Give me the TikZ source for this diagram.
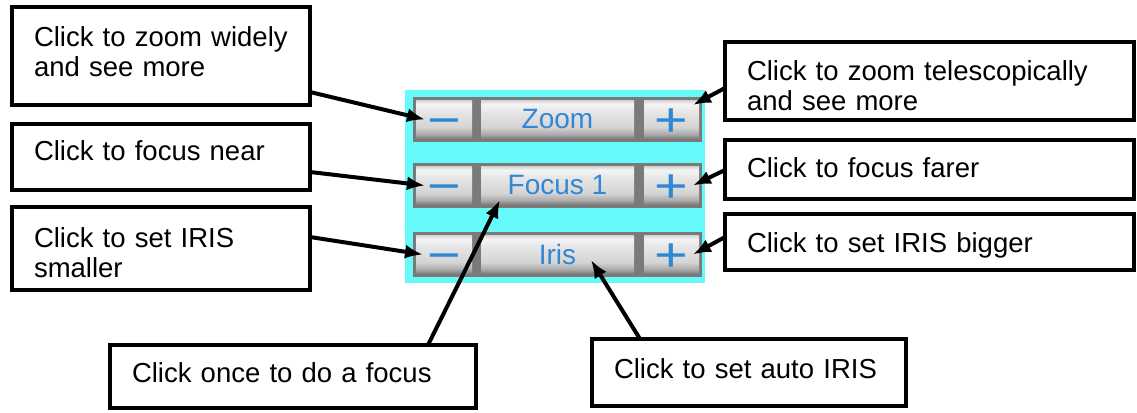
\documentclass[tikz,border=0pt]{standalone}
\usepackage{fontspec}
\setmainfont{Liberation Sans}
\usetikzlibrary{arrows.meta}
\definecolor{panel}{RGB}{102,250,250}
\definecolor{frame}{RGB}{122,122,122}
\definecolor{btntext}{RGB}{48,136,212}
\definecolor{s0}{RGB}{120,120,120}
\definecolor{s1}{RGB}{170,170,170}
\definecolor{s2}{RGB}{212,212,212}
\definecolor{s3}{RGB}{230,230,230}
\definecolor{s4}{RGB}{244,244,244}
\definecolor{s5}{RGB}{210,210,210}
\pgfdeclareverticalshading{btnshade}{100bp}{color(0bp)=(s0); color(25bp)=(s0); color(31bp)=(s1); color(40bp)=(s2); color(60bp)=(s3); color(70bp)=(s4); color(75bp)=(s5); color(100bp)=(s5)}
\tikzset{
  callout/.style={draw, line width=3.5pt, fill=white, anchor=north west, align=left,
    inner xsep=22pt, inner ysep=0pt, outer sep=0pt,
    font=\fontsize{27.5}{30}\selectfont},
  btn/.style={shading=btnshade, anchor=north west, inner sep=0pt, outer sep=0pt,
    minimum height=39pt, text=btntext, font=\fontsize{28}{30}\selectfont},
  sym/.style={font=\fontsize{48}{50}\selectfont},
  conn/.style={line width=4pt, -{Latex[length=18pt,width=14pt]}}
}
\newcommand{\btnminus}{\smash{\raisebox{-0.35em}{\scalebox{1.2}[1]{\char"2212}}}}
\newcommand{\btnplus}{\smash{\raisebox{-0.35em}{\scalebox{1.2}[1]{+}}}}
\begin{document}
\begin{tikzpicture}[x=1pt,y=-1pt]
\useasboundingbox (0,0) rectangle (1137,412);
% panel
\fill[panel] (405,90) rectangle (705,283);
\fill[frame] (413,97) rectangle (702,142);
\fill[frame] (413,163) rectangle (702,208);
\fill[frame] (413,232) rectangle (702,277);
% buttons row 1
\node[btn, sym, minimum width=56pt] (m1) at (416,100) {\btnminus};
\node[btn, minimum width=153pt] (z1) at (481,100) {Zoom};
\node[btn, sym, minimum width=55pt] (p1) at (644,100) {\btnplus};
% row 2
\node[btn, sym, minimum width=56pt] (m2) at (416,166) {\btnminus};
\node[btn, minimum width=153pt] (f2) at (481,166) {Focus 1};
\node[btn, sym, minimum width=55pt] (p2) at (644,166) {\btnplus};
% row 3
\node[btn, sym, minimum width=56pt] (m3) at (416,235) {\btnminus};
\node[btn, minimum width=153pt] (i3) at (481,235) {Iris};
\node[btn, sym, minimum width=55pt] (p3) at (644,235) {\btnplus};
% callouts
\node[callout, text width=254pt, text height=40pt, text depth=58pt] (b1) at (12,7) {Click to zoom widely\\and see more};
\node[callout, text width=254pt, text height=36pt, text depth=30pt] (b2) at (12,124) {Click to focus near};
\node[callout, text width=254pt, text height=40pt, text depth=43pt] (b3) at (12,207) {Click to set IRIS\\smaller};
\node[callout, text width=365pt, text height=38pt, text depth=40pt] (b4) at (725,42) {Click to zoom telescopically\\and see more};
\node[callout, text width=365pt, text height=37pt, text depth=22pt] (b5) at (725,140) {Click to focus farer};
\node[callout, text width=365pt, text height=38pt, text depth=18pt] (b6) at (725,214) {Click to set IRIS bigger};
\node[callout, text width=322pt, text height=37pt, text depth=26pt] (b7) at (110,345) {Click once to do a focus};
\node[callout, text width=270pt, text height=39pt, text depth=28pt] (b8) at (592,339) {Click to set auto IRIS};
% connectors
\draw[conn] ([yshift=13pt]b1.south east) -- ([xshift=9pt]m1.west);
\draw[conn] ([yshift=18pt]b2.south east) -- ([xshift=9pt]m2.west);
\draw[conn] ([yshift=-30pt]b3.north east) -- ([xshift=7pt]m3.west);
\draw[conn] ([yshift=-46pt]b4.north west) -- ([xshift=-6pt,yshift=-5pt]p1.north east);
\draw[conn] ([yshift=-30pt]b5.north west) -- ([xshift=-6pt]p2.east);
\draw[conn] ([yshift=-23pt]b6.north west) -- ([xshift=-6pt]p3.east);
\draw[conn] ([xshift=-48pt]b7.north east) -- ([xshift=19pt,yshift=5pt]f2.south west);
\draw[conn] ([xshift=48pt]b8.north west) -- ([xshift=-43pt,yshift=14pt]i3.south east);
\end{tikzpicture}
\end{document}
